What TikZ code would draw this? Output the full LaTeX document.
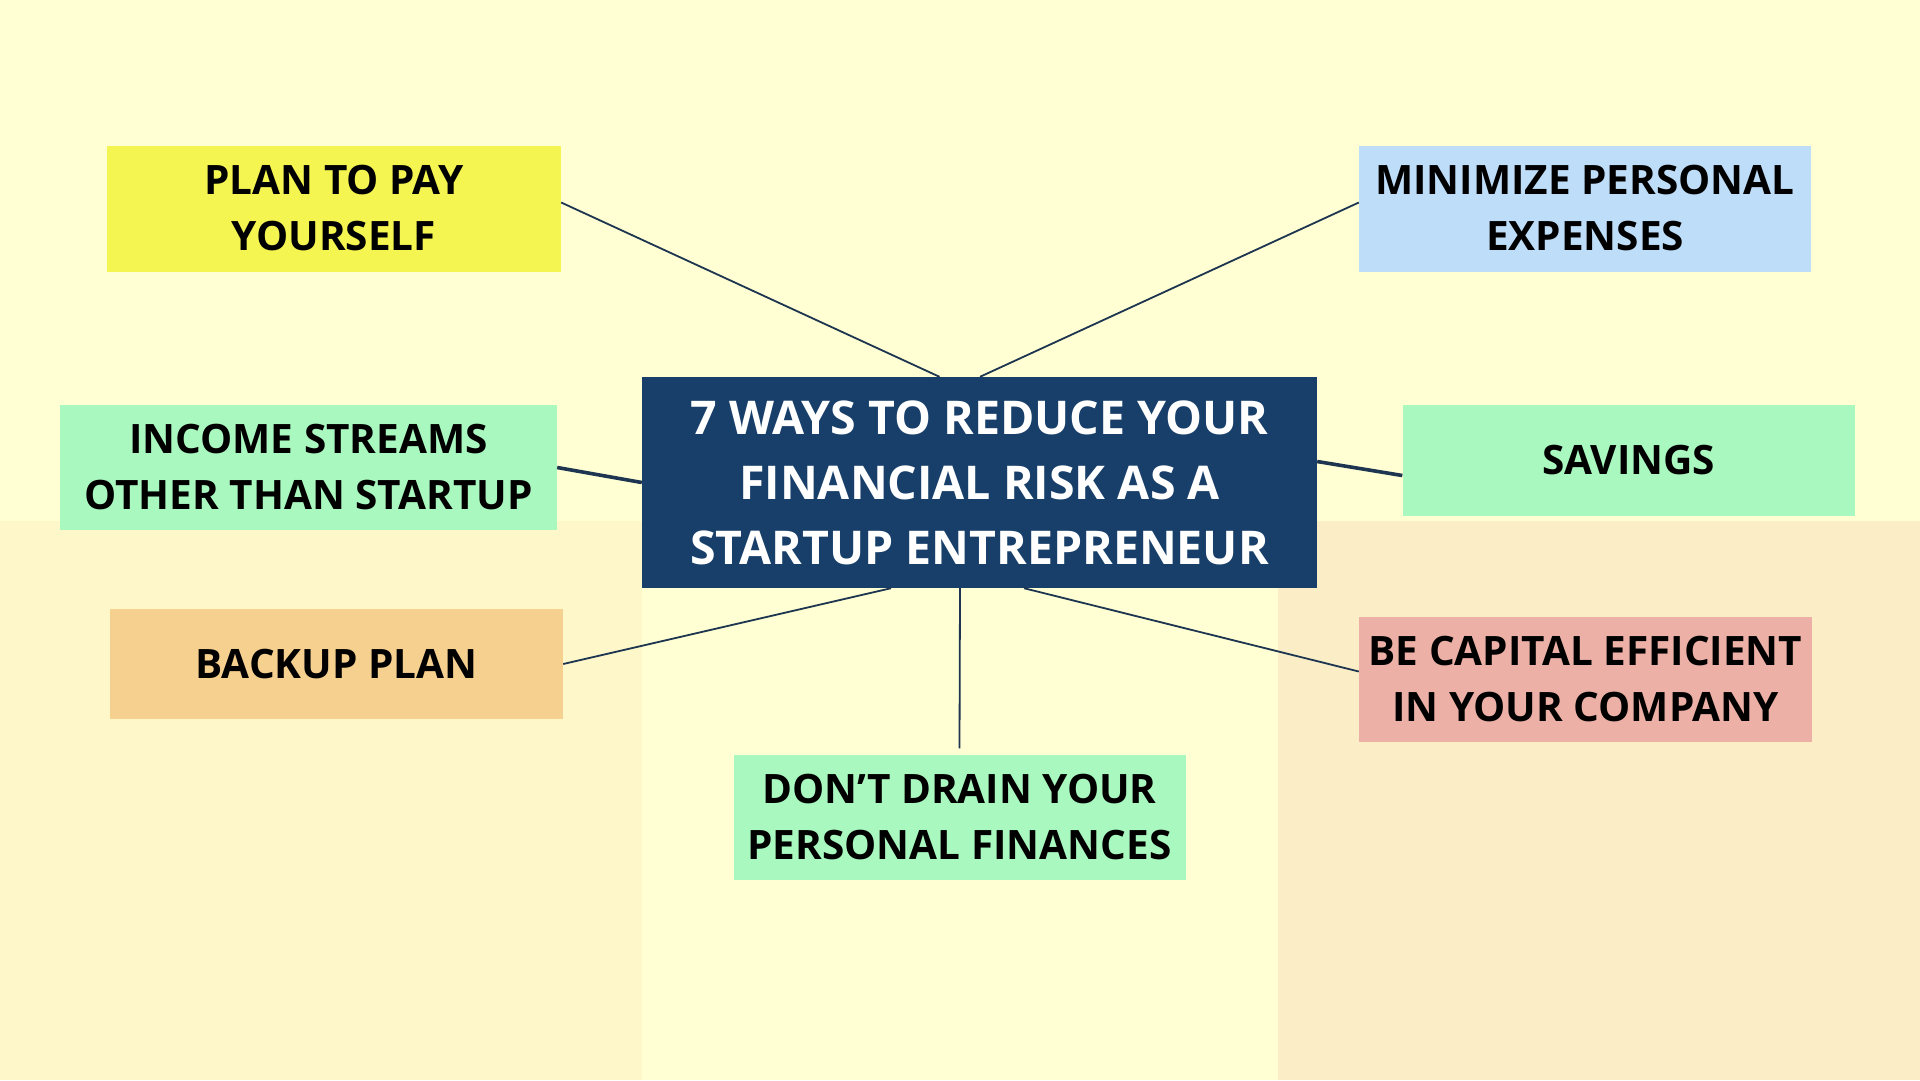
\documentclass[tikz,border=0pt]{standalone}
\usepackage{fontspec}
\setmainfont{Open Sans}[BoldFont={* Bold}]
\definecolor{bgtop}{HTML}{FFFFD3}
\definecolor{bgleft}{HTML}{FDF7CA}
\definecolor{bgright}{HTML}{FBEDC6}
\definecolor{navy}{HTML}{173F69}
\definecolor{linec}{HTML}{1D3550}
\definecolor{cyellow}{HTML}{F5F551}
\definecolor{cblue}{HTML}{BEDDF9}
\definecolor{cmint}{HTML}{A9F8C0}
\definecolor{corange}{HTML}{F6D08F}
\definecolor{cpink}{HTML}{EDB0A6}
\tikzset{
  item/.style={fill=#1, inner sep=0pt, align=center, font=\fontsize{40.5}{56}\selectfont\bfseries, text=black},
  title/.style={fill=navy, inner sep=0pt, align=center, font=\fontsize{46.5}{65}\selectfont\bfseries, text=white},
  thin/.style={draw=linec, line width=1.8pt},
  thick/.style={draw=linec, line width=3.6pt},
}
\begin{document}
\begin{tikzpicture}[x=1pt,y=-1pt]
\useasboundingbox (0,0) rectangle (1920,1080);
\fill[bgtop] (0,0) rectangle (1920,1080);
\fill[bgleft] (0,521) rectangle (642,1080);
\fill[bgright] (1278,521) rectangle (1920,1080);
% nodes
\node[title, minimum width=675pt, minimum height=211pt] (ctr) at (979.5,482.5) {7 WAYS TO REDUCE YOUR\\FINANCIAL RISK AS A\\STARTUP ENTREPRENEUR};
\node[item=cyellow, minimum width=454pt, minimum height=126pt] (plan) at (334,208.5) {PLAN TO PAY\\YOURSELF};
\node[item=cblue, minimum width=452pt, minimum height=126pt] (mini) at (1585,208.5) {MINIMIZE PERSONAL\\EXPENSES};
\node[item=cmint, minimum width=497pt, minimum height=125pt] (inc) at (308.5,467.5) {INCOME STREAMS\\OTHER THAN STARTUP};
\node[item=cmint, minimum width=452pt, minimum height=111pt] (sav) at (1628.5,460.5) {SAVINGS};
\node[item=corange, minimum width=453pt, minimum height=110pt] (back) at (336.5,664) {BACKUP PLAN};
\node[item=cpink, minimum width=453pt, minimum height=125pt] (cap) at (1585.5,679.5) {BE CAPITAL EFFICIENT\\IN YOUR COMPANY};
\node[item=cmint, minimum width=452pt, minimum height=125pt] (drain) at (959.5,817) {DON’T DRAIN YOUR\\PERSONAL FINANCES};
% connectors
\draw[thin] ([yshift=6pt]plan.east) -- ([xshift=-40pt]ctr.north);
\draw[thin] ([yshift=6pt]mini.west) -- ([xshift=0.5pt]ctr.north);
\draw[thick] (inc.east) -- (ctr.west);
\draw[thick] ([yshift=21pt]ctr.east) -- ([yshift=-15pt]sav.west);
\draw[thin] (back.east) -- ([xshift=-88.5pt]ctr.south);
\draw[thin] ([xshift=-19.5pt]ctr.south) -- ([yshift=6pt]drain.north);
\draw[thin] ([xshift=44.5pt]ctr.south) -- ([yshift=8pt]cap.west);
\end{tikzpicture}
\end{document}
